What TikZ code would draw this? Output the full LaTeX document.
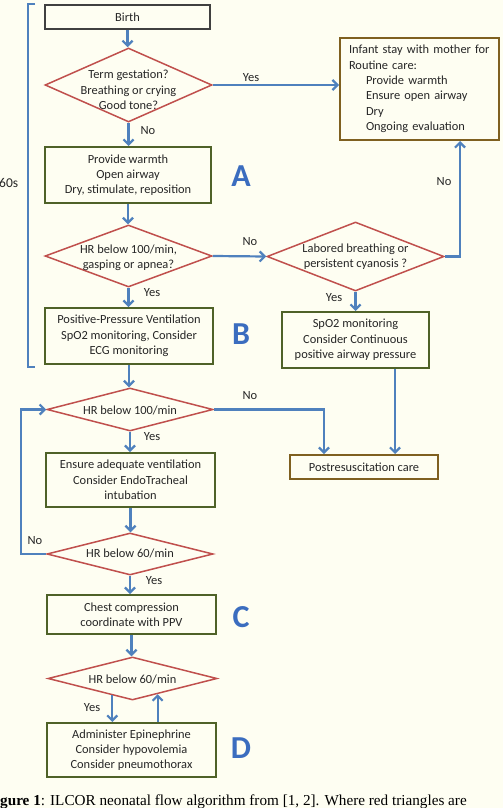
\documentclass[tikz,border=0pt]{standalone}
\usepackage{fontspec}
\setmainfont{Carlito}
\newfontfamily\capfont{Liberation Serif}
\usepackage{xcolor}
\usetikzlibrary{shapes.geometric,arrows.meta,positioning}
\definecolor{paper}{HTML}{FEFEF2}
\definecolor{flowblue}{HTML}{4F81BD}
\definecolor{askred}{HTML}{C0504D}
\definecolor{actgreen}{HTML}{4F6228}
\definecolor{carebrown}{HTML}{7F6020}
\definecolor{lettblue}{HTML}{3B6DBF}
\definecolor{inkgray}{HTML}{262626}

\begin{document}
\begin{tikzpicture}[
    x=1pt, y=-1pt,
    every node/.style={font=\fontsize{12.4}{15.3}\selectfont, text=inkgray},
    startbox/.style={draw=black!75, line width=1.8pt, rectangle, inner sep=0pt},
    action/.style={draw=actgreen, line width=2pt, rectangle, align=center, inner sep=0pt},
    carebox/.style={draw=carebrown, line width=2pt, rectangle, inner sep=0pt},
    decision/.style={draw=askred, line width=1.5pt, diamond, inner sep=0pt},
    asktext/.style={align=center, inner sep=0pt},
    flow/.style={draw=flowblue, line width=2.2pt, -{Straight Barb[length=5pt,width=10pt]}},
    answer/.style={font=\fontsize{12.5}{14}\selectfont, inner sep=0pt},
    stage/.style={font=\fontsize{32}{32}\selectfont\bfseries, text=lettblue, inner sep=0pt},
]

% Page
\fill[paper] (0,0) rectangle (503,808);
\useasboundingbox (0,0) rectangle (503,808);

% First minute bracket
\draw[flowblue, line width=2.2pt] (35,4) -- (28,4) -- (28,367) -- (35,367);
\node[anchor=west, inner sep=0pt, font=\fontsize{13.5}{15}\selectfont] (span) at (-1,183) {60s};

% Left column, first part
\node[startbox, minimum width=165pt, minimum height=24pt] (birth) at (127.5,17) {Birth};
\node[decision, minimum width=167pt, minimum height=74pt] (term) at (128.5,85) {};
\node[asktext] (termtext) at (128.5,90) {Term gestation?\\Breathing or crying\\Good tone?};
\node[action, minimum width=166pt, minimum height=56pt] (warm) at (128,175)
    {Provide warmth\\Open airway\\Dry, stimulate, reposition};
\node[decision, minimum width=167pt, minimum height=62pt] (gasp) at (128.5,256) {};
\node[asktext] (gasptext) at (128.5,257.5) {HR below 100/min,\\gasping or apnea?};
\node[action, minimum width=168pt, minimum height=56pt] (ppv) at (129,336)
    {Positive-Pressure Ventilation\\SpO2 monitoring, Consider\\ECG monitoring};

% Right column
\node[carebox, minimum width=159pt, minimum height=102pt, text width=141pt, align=left] (routine) at (419.5,89)
    {Infant stay with mother for\\Routine care:\\\hspace*{17pt}Provide warmth\\\hspace*{17pt}Ensure open airway\\\hspace*{17pt}Dry\\\hspace*{17pt}Ongoing evaluation};
\node[decision, minimum width=177pt, minimum height=69pt] (labored) at (355.5,256.5) {};
\node[asktext] (laboredtext) at (355.5,256.5) {Labored breathing or\\persistent cyanosis ?};
\node[action, minimum width=147pt, minimum height=56pt] (cpap) at (355.5,340)
    {SpO2 monitoring\\Consider Continuous\\positive airway pressure};
\node[carebox, minimum width=148pt, minimum height=24pt] (post) at (364,467) {Postresuscitation care};

% Left column, second part
\node[decision, minimum width=166pt, minimum height=43pt] (hrhund) at (130,409.5) {};
\node[asktext] (hrhundtext) at (130,410) {HR below 100/min};
\node[action, minimum width=169pt, minimum height=54pt] (ensure) at (130.5,480)
    {Ensure adequate ventilation\\Consider EndoTracheal\\intubation};
\node[decision, minimum width=166pt, minimum height=42pt] (hrsixty) at (130,554) {};
\node[asktext] (hrsixtytext) at (130,553.5) {HR below 60/min};
\node[action, minimum width=169pt, minimum height=39pt] (chest) at (131.5,614.5)
    {Chest compression\\coordinate with PPV};
\node[decision, minimum width=169pt, minimum height=43pt] (hrlast) at (132.5,678.5) {};
\node[asktext] (hrlasttext) at (132.5,679) {HR below 60/min};
\node[action, minimum width=169pt, minimum height=54pt] (drugs) at (131.5,750)
    {Administer Epinephrine\\Consider hypovolemia\\Consider pneumothorax};

% Stage letters
\node[stage] (stageA) at (241,176) {A};
\node[stage] (stageB) at (241,334) {B};
\node[stage] (stageC) at (241,617) {C};
\node[stage] (stageD) at (241,748) {D};

% Connectors
\draw[flow] (birth.south) -- (birth.south |- term.north);
\draw[flow] (term.east) -- (term.east -| routine.west);
\draw[flow] (term.south) -- (term.south |- warm.north);
\draw[flow] (warm.south) -- (warm.south |- gasp.north);
\draw[flow] (gasp.east) -- (labored.west);
\draw[flow] (gasp.south) -- (gasp.south |- ppv.north);
\draw[flow] (labored.east) -| ([xshift=40.5pt]routine.south);
\draw[flow] (labored.south) -- (labored.south |- cpap.north);
\draw[flow] ([xshift=39.5pt]cpap.south) -- ([xshift=39.5pt]cpap.south |- post.north);
\draw[flow] (ppv.south) -- (ppv.south |- hrhund.north);
\draw[flow] (hrhund.east) -| ([xshift=-40pt]post.north);
\draw[flow] (hrhund.south) -- (hrhund.south |- ensure.north);
\draw[flow] (ensure.south) -- (ensure.south |- hrsixty.north);
\draw[flow] (hrsixty.west) -- ++(-25,0) |- (hrhund.west);
\draw[flow] (hrsixty.south) -- (hrsixty.south |- chest.north);
\draw[flow] (chest.south) -- (chest.south |- hrlast.north);
\draw[flow] (hrlast.220) -- (hrlast.220 |- drugs.north);
\draw[flow] (drugs.north -| hrlast.328) -- (hrlast.328);

% Answers
\node[answer] (yesterm) at (251,78) {Yes};
\node[answer] (noterm) at (148,131) {No};
\node[answer] (nolabored) at (444,182) {No};
\node[answer] (nogasp) at (250,242) {No};
\node[answer] (yesgasp) at (152,293) {Yes};
\node[answer] (yeslabored) at (334,298) {Yes};
\node[answer] (nohund) at (250,396) {No};
\node[answer] (yeshund) at (152,437) {Yes};
\node[answer] (nosixty) at (35,541) {No};
\node[answer] (yessixty) at (154,581) {Yes};
\node[answer] (yeslast) at (92,708) {Yes};

% Caption
\node[anchor=base west, inner sep=0pt, text=black, font=\capfont\fontsize{15.2}{17}\selectfont] (caption) at (0,805)
    {\textbf{gure 1}: ILCOR neonatal flow algorithm from [1, 2]. Where red triangles are};

\end{tikzpicture}
\end{document}
